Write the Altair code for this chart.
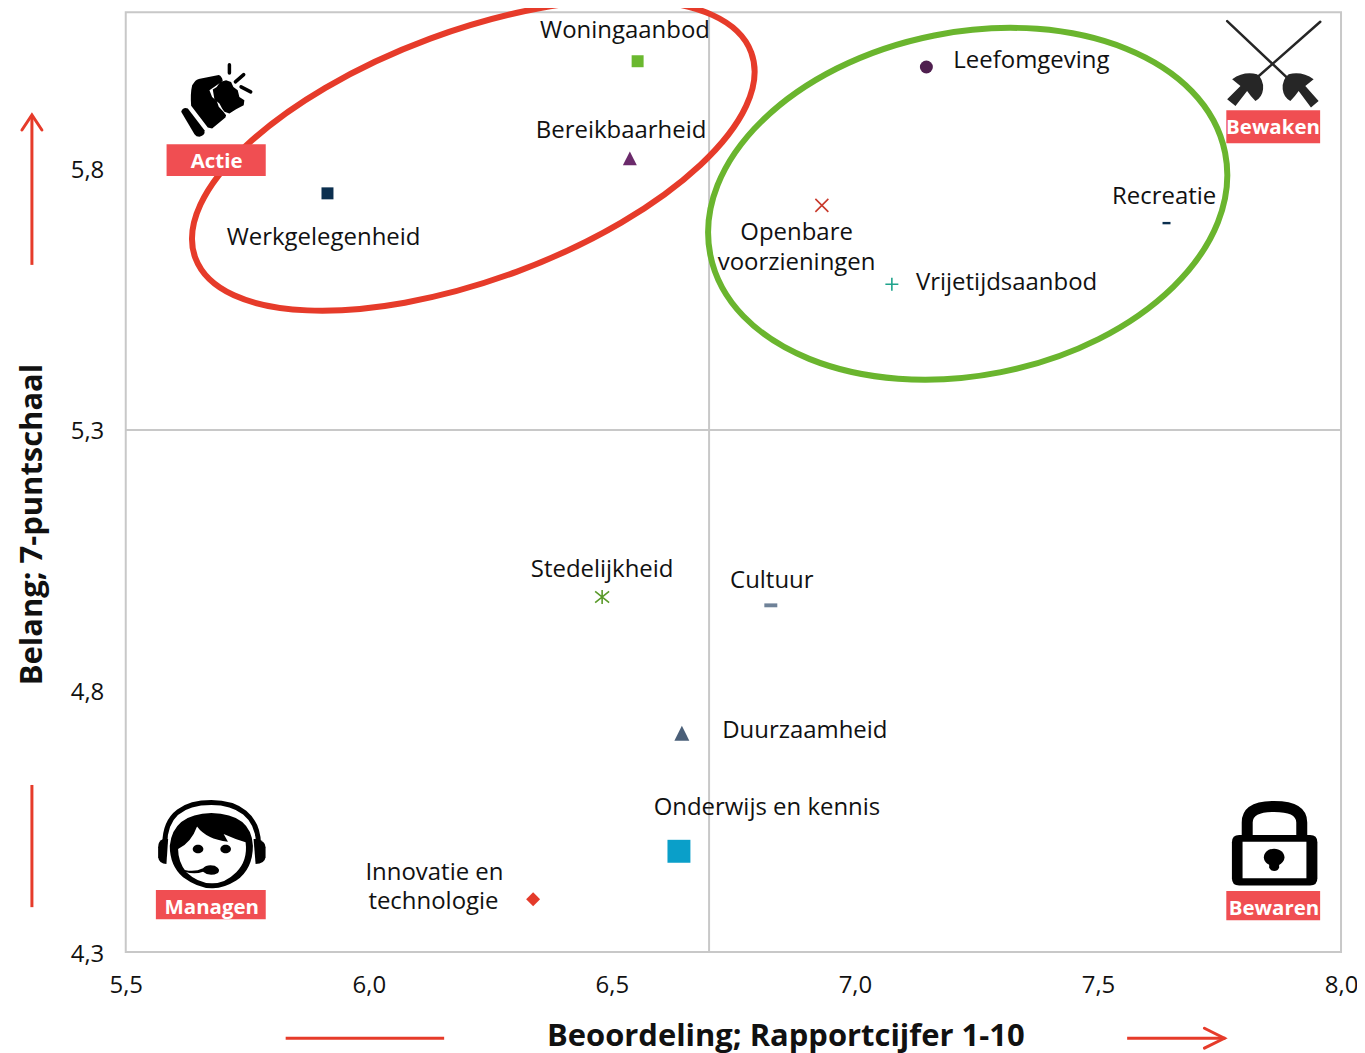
import altair as alt
import pandas as pd

FONT = "Open Sans"
RED = "#e63b2a"
BADGE = "#f04e52"

# ---- data -------------------------------------------------------------
names = ["Woningaanbod", "Bereikbaarheid", "Werkgelegenheid", "Leefomgeving",
         "Openbare voorzieningen", "Recreatie", "Vrijetijdsaanbod", "Stedelijkheid",
         "Cultuur", "Duurzaamheid", "Onderwijs en kennis", "Innovatie en technologie"]
rapport = [6.553, 6.537, 5.915, 7.147, 6.932, 7.641, 7.076, 6.480, 6.827, 6.644, 6.638, 6.338]
belang = [6.006, 5.820, 5.753, 5.995, 5.730, 5.696, 5.579, 4.980, 4.964, 4.719, 4.493, 4.401]
colors = ["#6ab82f", "#6b2a6b", "#0b2f4f", "#4f1f4f", "#c8392b", "#0b2f4f", "#1fa38c",
          "#5a9a2a", "#6f8298", "#4a5f78", "#0a9fc9", "#e43a2a"]
TRI = "M0,-1L1,1L-1,1Z"
DASH = "M-1,-.3L1,-.3L1,.3L-1,.3Z"
XX = "M-1,-1L1,1M-1,1L1,-1"
PLUS = "M-1,0L1,0M0,-1L0,1"
STAR = "M-1,-.8L1,.8M-1,.8L1,-.8M0,-1L0,1"
shapes = ["square", TRI, "square", "circle", XX, DASH, PLUS, STAR, DASH, TRI, "square", "diamond"]
sizes = [144, 196, 144, 169, 169, 64, 169, 196, 169, 225, 529, 196]
filled = [True, True, True, True, False, True, False, False, True, True, True, True]

label_text = ["Woningaanbod", "Bereikbaarheid", "Werkgelegenheid", "Leefomgeving", "Openbare",
              "voorzieningen", "Recreatie", "Vrijetijdsaanbod", "Stedelijkheid", "Cultuur",
              "Duurzaamheid", "Onderwijs en kennis", "Innovatie en", "technologie"]
label_x = [6.527, 6.519, 5.907, 7.363, 6.880, 6.880, 7.636, 7.312, 6.480, 6.829, 6.897, 6.819, 6.135, 6.133]
label_y = [6.066, 5.874, 5.669, 6.008, 5.679, 5.621, 5.748, 5.583, 5.033, 5.012, 4.725, 4.578, 4.453, 4.398]

badge_text = ["Actie", "Bewaken", "Managen", "Bewaren"]
badge_x0 = [5.584, 7.764, 5.562, 7.764]
badge_x1 = [5.788, 7.957, 5.788, 7.957]
badge_y0 = [5.786, 5.849, 4.363, 4.361]
badge_y1 = [5.847, 5.912, 4.419, 4.417]
badge_tx = [5.687, 7.860, 5.677, 7.862]
badge_ty = [5.815, 5.880, 4.386, 4.384]

x_ticks = [5.5, 6.0, 6.5, 7.0, 7.5, 8.0]
y_ticks = [4.3, 4.8, 5.3, 5.8]

label_expr = "replace(format(datum.value,'.1f'),'.',',')"
AX = alt.Axis(values=x_ticks, labelExpr=label_expr, grid=False, domain=False, ticks=False,
              labelFont=FONT, labelFontSize=24, labelColor="#111111", labelPadding=22,
              title="Beoordeling; Rapportcijfer 1-10", titleFont=FONT, titleFontSize=31,
              titleFontWeight="bold", titleColor="#111111", titleX=661, titleY=85,
              titleBaseline="middle", titleAlign="center", labelOverlap=False, labelFlush=False)
AY = alt.Axis(values=y_ticks, labelExpr=label_expr, grid=False, domain=False, ticks=False,
              labelFont=FONT, labelFontSize=24, labelColor="#111111", labelPadding=22,
              labelOffset=2,
              title="Belang; 7-puntschaal", titleFont=FONT, titleFontSize=31,
              titleFontWeight="bold", titleColor="#111111", titleX=-93, titleY=513,
              titleAngle=270, titleBaseline="middle", titleAlign="center",
              labelOverlap=False, labelFlush=False)
SCALE_X = alt.Scale(domain=[5.5, 8.0], nice=False, zero=False)
SCALE_Y = alt.Scale(domain=[4.3, 6.1], nice=False, zero=False)
X = alt.X("x:Q", scale=SCALE_X, axis=AX)
Y = alt.Y("y:Q", scale=SCALE_Y, axis=AY)


def one(x, y):
    return pd.DataFrame({"x": [x], "y": [y]})


def oval(cx, cy, rx, ry):
    return (f"M{cx-rx},{cy}A{rx},{ry} 0 1 0 {cx+rx},{cy}"
            f"A{rx},{ry} 0 1 0 {cx-rx},{cy}Z")


def glyph(x, y, path, fill=None, stroke=None, sw=0, size=4 / 9):
    kw = dict(shape=path, size=size, opacity=1)
    if fill:
        kw.update(filled=True, fill=fill, strokeWidth=0)
    else:
        kw.update(filled=False, fill="transparent", stroke=stroke, strokeWidth=sw, strokeCap="round")
    return alt.Chart(one(x, y)).mark_point(**kw).encode(x=X, y=Y)


# ---- cross lines ------------------------------------------------------
vline = alt.Chart(pd.DataFrame({"x": [6.7], "y": [4.3], "y2": [6.1]})).mark_rule(
    color="#c8c8c8", strokeWidth=2).encode(x=X, y=Y, y2="y2:Q")
hline = alt.Chart(pd.DataFrame({"x": [5.5], "x2": [8.0], "y": [5.3]})).mark_rule(
    color="#c8c8c8", strokeWidth=2).encode(x=X, x2="x2:Q", y=Y)

# ---- ellipses ---------------------------------------------------------
red_ell = alt.Chart(one(6.215, 5.826)).mark_point(
    shape=oval(0, 0, 297, 124.6), size=4, angle=339.7, filled=False, fill="transparent",
    stroke="#e63b2a", strokeWidth=6, opacity=1).encode(x=X, y=Y)
green_ell = alt.Chart(one(7.232, 5.733)).mark_point(
    shape=oval(0, 0, 263, 172), size=4, angle=348.8, filled=False, fill="transparent",
    stroke="#6ab52e", strokeWidth=6, opacity=1).encode(x=X, y=Y)

# ---- points and labels ------------------------------------------------
pts = pd.DataFrame({"name": names, "x": rapport, "y": belang, "c": colors,
                    "s": shapes, "z": sizes, "f": filled})
enc = dict(x=X, y=Y, color=alt.Color("c:N", scale=None), shape=alt.Shape("s:N", scale=None),
           size=alt.Size("z:Q", scale=None))
pts_f = alt.Chart(pts[pts.f]).mark_point(filled=True, opacity=1, strokeWidth=0).encode(**enc)
pts_s = alt.Chart(pts[~pts.f]).mark_point(filled=False, opacity=1, strokeWidth=1.6).encode(**enc)

labels = alt.Chart(pd.DataFrame({"t": label_text, "x": label_x, "y": label_y})).mark_text(
    font=FONT, fontSize=24, color="#111111", align="center", baseline="middle", dy=1).encode(
    x=X, y=Y, text="t:N")

# ---- badges -----------------------------------------------------------
b = pd.DataFrame({"t": badge_text, "x": badge_x0, "x2": badge_x1, "y": badge_y0, "y2": badge_y1,
                  "tx": badge_tx, "ty": badge_ty})
badge_r = alt.Chart(b).mark_rect(color=BADGE, opacity=1).encode(x=X, x2="x2:Q", y=Y, y2="y2:Q")
badge_t = alt.Chart(b).mark_text(font=FONT, fontSize=20.5, fontWeight="bold", color="white", dy=1).encode(
    x=alt.X("tx:Q", scale=SCALE_X, axis=AX), y=alt.Y("ty:Q", scale=SCALE_Y, axis=AY), text="t:N")

# ---- arrows -----------------------------------------------------------
seg = pd.DataFrame({"x": [5.307, 5.307, 5.829, 7.560], "x2": [5.307, 5.307, 6.155, 7.762],
                    "y": [5.616, 4.386, 4.135, 4.135], "y2": [5.903, 4.620, 4.135, 4.135]})
arrows = alt.Chart(seg).mark_rule(color=RED, strokeWidth=3).encode(x=X, x2="x2:Q", y=Y, y2="y2:Q")
head_up = glyph(5.307, 5.903, "M-10,15L0,0L10,15", stroke=RED, sw=3, size=4)
head_right = glyph(7.760, 4.135, "M-20,-10L0,0L-20,10", stroke=RED, sw=3, size=4)

# ---- icons (paths in 3x units, anchored at the icon's corner) ----------
FX, FY = 5.508, 6.046
fist = [
    glyph(FX, FY, "M155,215Q160,200 175,205L225,270Q228,285 210,290Q200,290 195,282Z", fill="black"),
    glyph(FX, FY, "M195,125Q200,118 215,115L268,104Q278,108 280,122L240,150L248,170L262,182L268,200"
                  "L282,215L290,225L288,232L248,265L235,262L185,197Q182,160 188,135Z", fill="black"),
    glyph(FX, FY, "M250,148L262,140L272,125L290,120L305,125L312,140L325,150L330,170L345,180L343,195"
                  "L320,207L300,220L285,215L278,205L270,190L255,178Z", fill="black"),
    glyph(FX, FY, "M300,73L300,98M318,125L343,103M335,140L364,155", stroke="black", sw=3.5),
]
SX, SY = 7.711, 6.102
DARK = "#262626"
foils = [
    glyph(SX, SY, "M80,30L260,200M360,32L175,195", stroke=DARK, sw=2.5),
    glyph(SX, SY, "M95,205Q130,180 170,190Q190,205 188,235Q185,260 165,270Q150,255 140,240L105,285L80,265L120,225Z",
          fill=DARK),
    glyph(SX, SY, "M340,205Q305,180 265,190Q245,205 247,235Q250,260 270,270Q285,255 295,240L332,290L355,270L315,225Z",
          fill=DARK),
]
HX, HY = 5.529, 4.612
head = [
    glyph(HX, HY, "M75,165C75,70 140,40 215,40C295,40 355,80 357,165", stroke="black", sw=5),
    glyph(HX, HY, "M70,150Q55,155 55,175L55,205Q58,225 80,225L85,150Z", fill="black"),
    glyph(HX, HY, "M350,150Q378,155 378,175L378,205Q375,225 348,225L342,150Z", fill="black"),
    glyph(HX, HY, "M90,170Q100,75 215,72Q335,75 340,170Q340,240 290,275Q250,300 215,298Q175,298 130,265Q90,230 90,170Z",
          fill="black"),
    glyph(HX, HY, "M115,180Q155,160 172,112Q200,150 265,158L252,135Q285,150 318,160Q325,215 290,250"
                  "Q255,285 215,283Q175,283 140,250Q115,220 115,180Z", fill="white"),
    glyph(HX, HY, oval(175, 180, 16, 13), fill="black"),
    glyph(HX, HY, oval(258, 180, 16, 13), fill="black"),
    glyph(HX, HY, "M135,243Q165,250 190,238Q200,225 225,230Q245,240 235,252Q210,265 190,248Q165,258 135,248Z",
          fill="black"),
]
LX, LY = 7.729, 4.612
lock = [
    glyph(LX, LY, "M114,140L114,100Q114,52 195,52Q278,52 278,100L278,140", stroke="black", sw=11),
    glyph(LX, LY, "M90,138L303,138Q325,138 325,160L325,268Q325,290 303,290L90,290Q68,290 68,268L68,160Q68,138 90,138Z",
          fill="black"),
    glyph(LX, LY, "M100,158L292,158L292,268L100,268Z", fill="white"),
    glyph(LX, LY, oval(195, 205, 31, 26), fill="black"),
    glyph(LX, LY, "M180,215L210,215L210,235Q208,246 195,246Q182,246 180,235Z", fill="black"),
]

chart = alt.layer(
    vline, hline, red_ell, green_ell, pts_f, pts_s, labels,
    badge_r, badge_t, arrows, head_up, head_right,
    *fist, *foils, *head, *lock,
).properties(
    width=1218, height=942,
    autosize=alt.AutoSizeParams(type="none"),
    padding={"left": 118, "top": 3, "right": 16, "bottom": 100},
    background="white",
).configure_view(stroke="#c8c8c8", strokeWidth=2)

chart.save("out.html", embed_options={"renderer": "svg", "actions": False})
